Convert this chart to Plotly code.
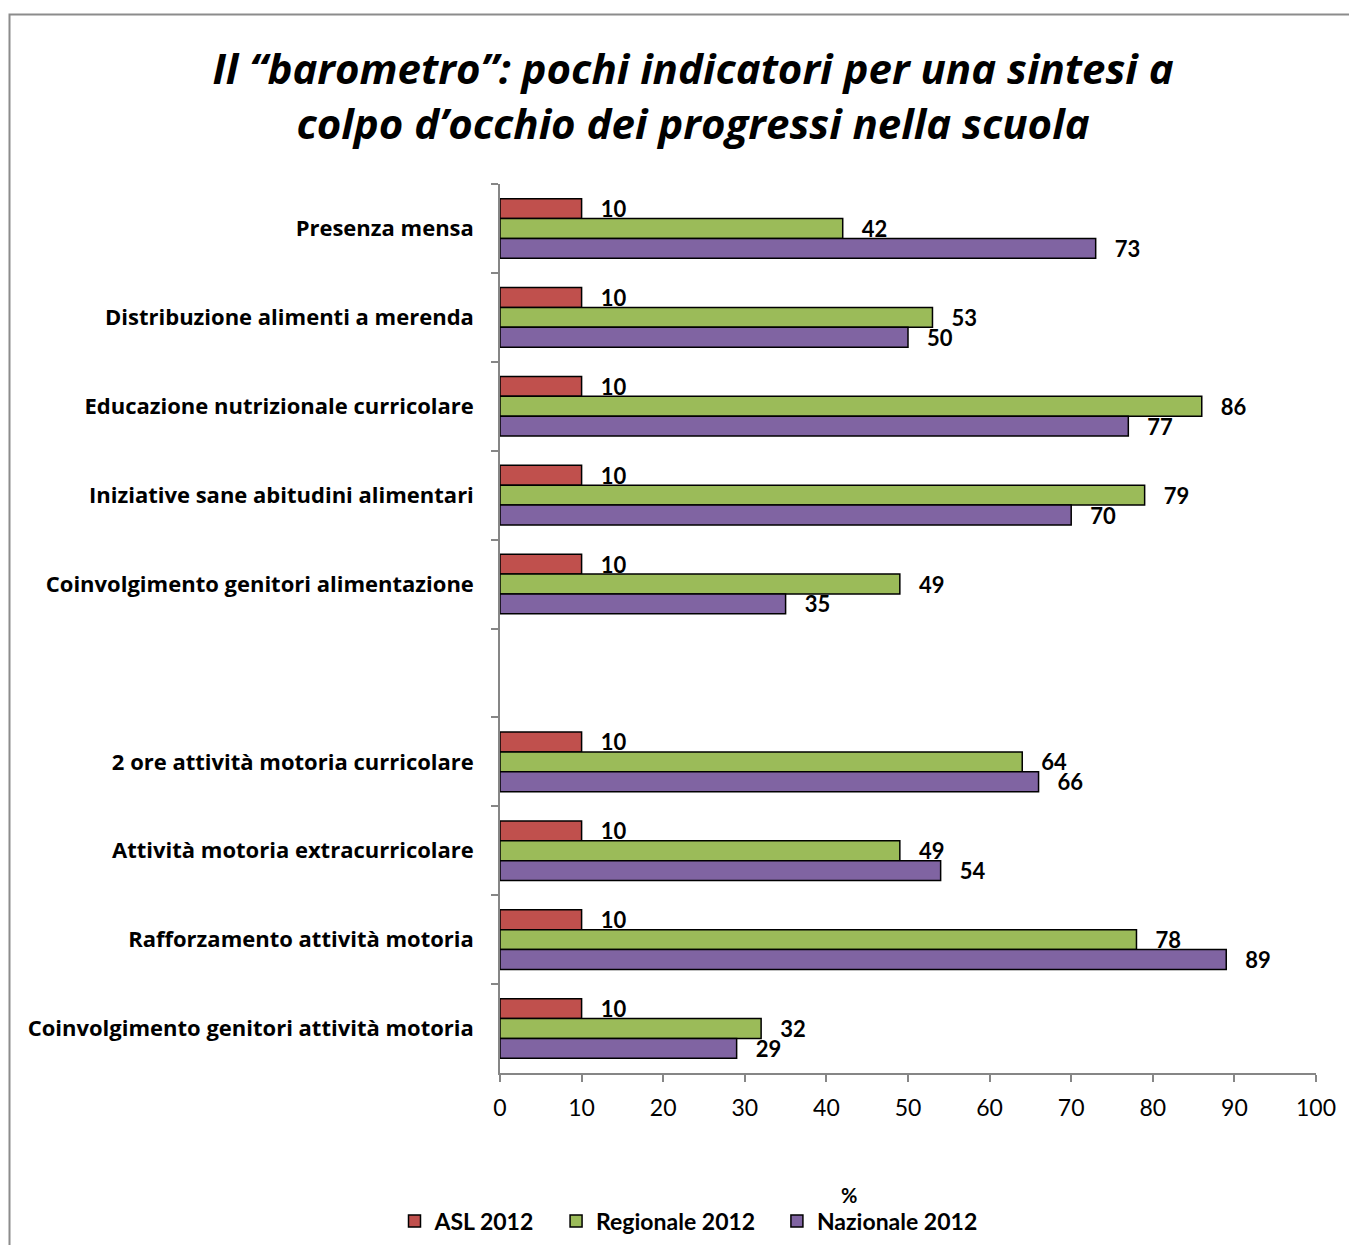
import plotly.graph_objects as go

categories = [
    "Presenza mensa",
    "Distribuzione alimenti a merenda",
    "Educazione nutrizionale curricolare",
    "Iniziative sane abitudini alimentari",
    "Coinvolgimento genitori alimentazione",
    " ",
    "2 ore attività motoria curricolare",
    "Attività motoria extracurricolare",
    "Rafforzamento attività motoria",
    "Coinvolgimento genitori attività motoria",
]
asl_2012 = [10, 10, 10, 10, 10, None, 10, 10, 10, 10]
regionale_2012 = [42, 53, 86, 79, 49, None, 64, 49, 78, 32]
nazionale_2012 = [73, 50, 77, 70, 35, None, 66, 54, 89, 29]
series_names = ["ASL 2012", "Regionale 2012", "Nazionale 2012"]
colors = ["#C0504D", "#9BBB59", "#8064A2"]
x_ticks = [0, 10, 20, 30, 40, 50, 60, 70, 80, 90, 100]

WIDE = "Open Sans"
NARROW = "Lato"
OFF = 8  # page body margin
W, H = 1357 - 2 * OFF, 1253 - 2 * OFF
L = 500 - OFF
T = 184 - OFF
R = W - (1316 - OFF)
B = H - (1073 - OFF)
PW, PH = W - L - R, H - T - B

NB = "\u00a0"

fig = go.Figure()
for name, vals, col in zip(series_names, [asl_2012, regionale_2012, nazionale_2012], colors):
    fig.add_trace(go.Bar(
        y=categories, x=vals, name=name + NB * 3, orientation="h",
        marker=dict(color=col, line=dict(color="#000000", width=1.5)),
        text=[(NB * 3 + str(v)) if v is not None else "" for v in vals],
        textposition="outside", constraintext="none", cliponaxis=False,
        textfont=dict(family=NARROW, size=22, color="#000000", weight="bold"),
        hoverinfo="skip",
    ))

def px_x(page_x):
    return (page_x - OFF - L) / PW

def px_y(page_y):
    return (H - B - (page_y - OFF)) / PH

fig.update_layout(
    width=W, height=H,
    margin=dict(l=L, r=R, t=T, b=B, autoexpand=False),
    barmode="group", bargap=0.33, bargroupgap=0,
    paper_bgcolor="white", plot_bgcolor="white",
    font=dict(family=NARROW, color="#000000"),
    title=dict(
        text="<i><b>Il “barometro”: pochi indicatori per una sintesi a<br>colpo d’occhio dei progressi nella scuola</b></i>",
        x=(693 - OFF) / W, xanchor="center", xref="container",
        y=1 - (84 - OFF) / H, yanchor="middle", yref="container",
        font=dict(family=WIDE, size=42, color="#000000"),
    ),
    xaxis=dict(
        range=[0, 100], tickvals=x_ticks, showgrid=False, zeroline=False,
        showline=True, linecolor="#868686", linewidth=1.5,
        ticks="outside", ticklen=7, tickcolor="#868686", tickwidth=1.5,
        tickfont=dict(family=NARROW, size=23, color="#000000"),
        ticklabelstandoff=7,
    ),
    yaxis=dict(
        type="category", autorange="reversed", showgrid=False, zeroline=False,
        showline=True, linecolor="#868686", linewidth=1.5,
        ticks="outside", ticklen=7, tickcolor="#868686", tickwidth=1.5,
        tickson="boundaries",
        tickfont=dict(family=WIDE, size=22, color="#000000", weight="bold"),
        ticklabelstandoff=20,
    ),
    showlegend=True,
    legend=dict(
        orientation="h", x=px_x(697), xanchor="center", y=px_y(1221), yanchor="middle",
        font=dict(family=NARROW, size=23, color="#000000", weight="bold"),
        itemwidth=30, bgcolor="rgba(0,0,0,0)", traceorder="normal",
        itemclick=False,
    ),
    annotations=[dict(
        text="<b>%</b>", xref="paper", yref="paper", x=px_x(849), y=px_y(1195),
        xanchor="center", yanchor="middle", showarrow=False,
        font=dict(family=NARROW, size=20, color="#000000"),
    )],
    shapes=[dict(
        type="rect", xref="paper", yref="paper",
        x0=px_x(9.5), x1=px_x(1400), y0=px_y(1300), y1=px_y(14.5),
        line=dict(color="#8C8C8C", width=2), fillcolor="rgba(0,0,0,0)", layer="below",
    )],
)

fig.write_html("out.html")
